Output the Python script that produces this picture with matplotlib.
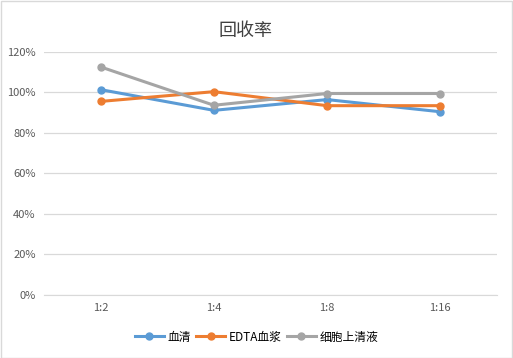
import matplotlib.pyplot as plt
from matplotlib.ticker import FuncFormatter

plt.rcParams['font.family'] = ['Noto Sans CJK SC', 'DejaVu Sans']

# data
ratios = ['1:2', '1:4', '1:8', '1:16']
serum = [101.2, 91.0, 96.3, 90.3]
edta_plasma = [95.4, 100.2, 93.3, 93.3]
cell_supernatant = [112.4, 93.5, 99.3, 99.3]

fig = plt.figure(figsize=(5.13, 3.58), dpi=100)
ax = fig.add_axes([44 / 513, 63 / 358, 453 / 513, 243.5 / 358])

x = range(len(ratios))
ax.plot(x, serum, marker='o', color='#5b9bd5', lw=2.2, ms=5, label='血清')
ax.plot(x, edta_plasma, marker='o', color='#ed7d31', lw=2.2, ms=5, label='EDTA血浆')
ax.plot(x, cell_supernatant, marker='o', color='#a5a5a5', lw=2.2, ms=5, label='细胞上清液')

ax.set_xlim(-0.5, len(ratios) - 0.5)
ax.set_ylim(0, 120)
ax.set_yticks(range(0, 121, 20))
ax.yaxis.set_major_formatter(FuncFormatter(lambda v, p: f'{v:.0f}%'))
ax.set_xticks(list(x))
ax.set_xticklabels(ratios)
ax.tick_params(length=0, labelsize=8, colors='#595959', pad=6)
ax.grid(axis='y', color='#d9d9d9', lw=0.9)
ax.set_axisbelow(True)
for s in ['top', 'right', 'left']:
    ax.spines[s].set_visible(False)
ax.spines['bottom'].set_color('#d9d9d9')

fig.text(246 / 513, 1 - 31 / 358, '回收率', ha='center', va='center', fontsize=13,
         color='#404040', fontweight='light')
fig.legend(loc='center', bbox_to_anchor=(0.5, 1 - 337 / 358), ncol=3, frameon=False,
           fontsize=8.5, handlelength=2.5, columnspacing=0.4, handletextpad=0.3)

fig.patches.append(plt.Rectangle((0.001, 0.001), 0.997, 0.997, transform=fig.transFigure,
                                 fill=False, edgecolor='#d9d9d9', lw=1))
fig.savefig('out.png', dpi=100)
